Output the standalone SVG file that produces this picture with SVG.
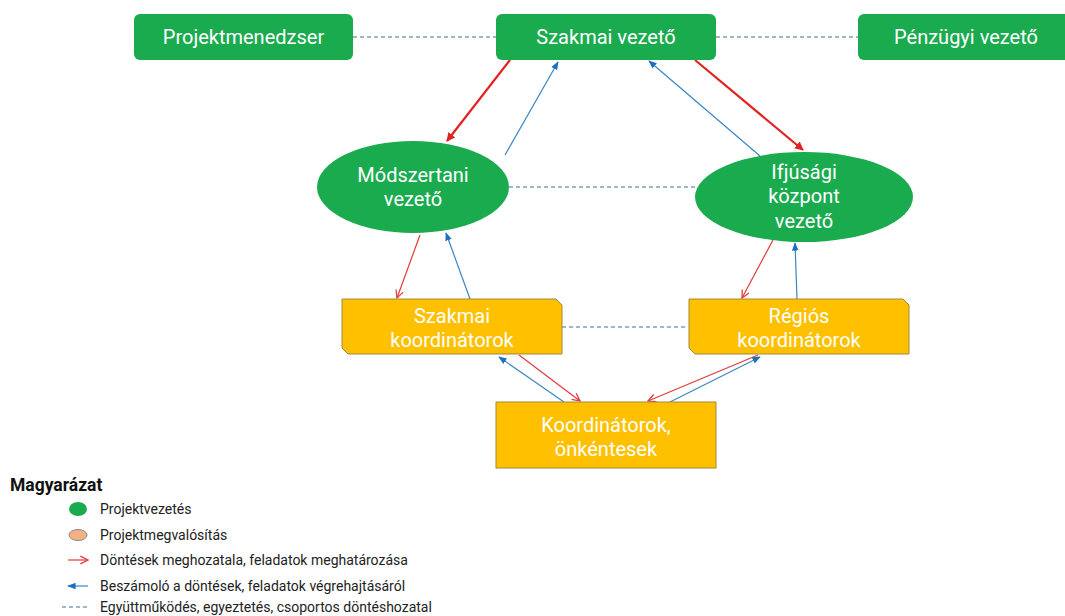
<svg xmlns="http://www.w3.org/2000/svg" width="1065" height="616" viewBox="0 0 1065 616">
<style>
.g{fill:#1aab4f}
.y{fill:#ffc000;stroke:#a08a3c;stroke-width:1}
.t{font-family:Roboto,"Liberation Sans",sans-serif;fill:#fff;text-anchor:middle}
.t19{font-size:20px}
.t18{font-size:20px}
.dash{stroke:#3a6f9a;stroke-width:1;stroke-dasharray:4,3;fill:none}
.red2{stroke:#e3211f;stroke-width:2.2;fill:none}
.red1{stroke:#e4393a;stroke-width:1.2;fill:none}
.blue{stroke:#3a86c6;stroke-width:1.2;fill:none}
.lg{font-family:Roboto,"Liberation Sans",sans-serif;font-size:14px;fill:#222}
</style>
<defs>
<marker id="rf" viewBox="0 0 10 10" refX="9" refY="5" markerWidth="4" markerHeight="4" orient="auto" markerUnits="strokeWidth"><path d="M0,0 L10,5 L0,10 z" fill="#e3211f"/></marker>
<marker id="ro" viewBox="0 0 10 10" refX="9" refY="5" markerWidth="8" markerHeight="8" orient="auto" markerUnits="strokeWidth"><path d="M1,1 L9,5 L1,9" fill="none" stroke="#e4393a" stroke-width="1.3"/></marker>
<marker id="bf" viewBox="0 0 10 10" refX="9" refY="5" markerWidth="7" markerHeight="7" orient="auto" markerUnits="strokeWidth"><path d="M0,1 L10,5 L0,9 z" fill="#1f6fbf"/></marker>
</defs>

<g id="connectors">
<line class="dash" x1="353" y1="37" x2="496" y2="37"/>
<line class="dash" x1="716" y1="37" x2="858" y2="37"/>
<line class="dash" x1="509" y1="187" x2="697" y2="187"/>
<line class="dash" x1="562" y1="327" x2="688" y2="327"/>
<line class="red2" x1="510" y1="60" x2="447" y2="141" marker-end="url(#rf)"/>
<line class="blue" x1="505" y1="155" x2="558" y2="62" marker-end="url(#bf)"/>
<line class="blue" x1="760" y1="156" x2="649" y2="61" marker-end="url(#bf)"/>
<line class="red2" x1="695" y1="60" x2="803" y2="150" marker-end="url(#rf)"/>
<line class="red1" x1="420" y1="235" x2="397" y2="298" marker-end="url(#ro)"/>
<line class="blue" x1="470" y1="299" x2="446" y2="233" marker-end="url(#bf)"/>
<line class="red1" x1="773" y1="240" x2="742" y2="298" marker-end="url(#ro)"/>
<line class="blue" x1="797" y1="299" x2="795" y2="243" marker-end="url(#bf)"/>
<line class="red1" x1="519" y1="355" x2="580" y2="401" marker-end="url(#ro)"/>
<line class="blue" x1="564" y1="402" x2="499" y2="357" marker-end="url(#bf)"/>
<line class="red1" x1="758" y1="355" x2="648" y2="401" marker-end="url(#ro)"/>
<line class="blue" x1="670" y1="402" x2="760" y2="357" marker-end="url(#bf)"/>
</g>

<g id="projektmenedzser">
<rect class="g" x="134" y="14" width="219" height="46" rx="6"/>
<text class="t t19" x="243.5" y="44">Projektmenedzser</text>
</g>
<g id="szakmai-vezeto">
<rect class="g" x="496" y="14" width="220" height="46" rx="6"/>
<text class="t t19" x="606" y="44">Szakmai vezető</text>
</g>
<g id="penzugyi-vezeto">
<rect class="g" x="858" y="14" width="214" height="46" rx="6"/>
<text class="t t19" x="966" y="44">Pénzügyi vezető</text>
</g>
<g id="modszertani-vezeto">
<ellipse class="g" cx="413" cy="187" rx="96" ry="46"/>
<text class="t t18" x="413" y="182">Módszertani</text>
<text class="t t18" x="413" y="206">vezető</text>
</g>
<g id="ifjusagi-kozpont-vezeto">
<ellipse class="g" cx="804" cy="197" rx="109" ry="45"/>
<text class="t t18" x="804" y="179">Ifjúsági</text>
<text class="t t18" x="804" y="203">központ</text>
<text class="t t18" x="804" y="228">vezető</text>
</g>
<g id="szakmai-koordinatorok">
<path class="y" d="M342,299 L556,299 L562,305 L562,354 L348,354 L342,348 Z"/>
<text class="t t18" x="452" y="323">Szakmai</text>
<text class="t t18" x="452" y="347">koordinátorok</text>
</g>
<g id="regios-koordinatorok">
<path class="y" d="M689,299 L903,299 L909,305 L909,354 L695,354 L689,348 Z"/>
<text class="t t18" x="799" y="323">Régiós</text>
<text class="t t18" x="799" y="347">koordinátorok</text>
</g>
<g id="koordinatorok-onkentesek">
<rect class="y" x="496" y="402" width="220" height="66"/>
<text class="t t18" x="606" y="432">Koordinátorok,</text>
<text class="t t18" x="606" y="456">önkéntesek</text>
</g>

<g id="legend">
<text x="10" y="491" font-family="Roboto,'Liberation Sans',sans-serif" font-size="17.5" font-weight="bold" fill="#111">Magyarázat</text>
<ellipse cx="78" cy="509" rx="9" ry="7" fill="#1aab4f"/>
<text class="lg" x="100" y="514">Projektvezetés</text>
<ellipse cx="78" cy="535" rx="9" ry="5.5" fill="#f4b183" stroke="#8a8a8a" stroke-width="1"/>
<text class="lg" x="100" y="540">Projektmegvalósítás</text>
<line x1="68" y1="560" x2="88" y2="560" stroke="#e4393a" stroke-width="1.2" marker-end="url(#ro)"/>
<text class="lg" x="100" y="565">Döntések meghozatala, feladatok meghatározása</text>
<line x1="88" y1="586" x2="68" y2="586" stroke="#3a86c6" stroke-width="1.2" marker-end="url(#bf)"/>
<text class="lg" x="100" y="591">Beszámoló a döntések, feladatok végrehajtásáról</text>
<line class="dash" x1="62" y1="607" x2="90" y2="607"/>
<text class="lg" x="100" y="612">Együttműködés, egyeztetés, csoportos döntéshozatal</text>
</g>
</svg>
